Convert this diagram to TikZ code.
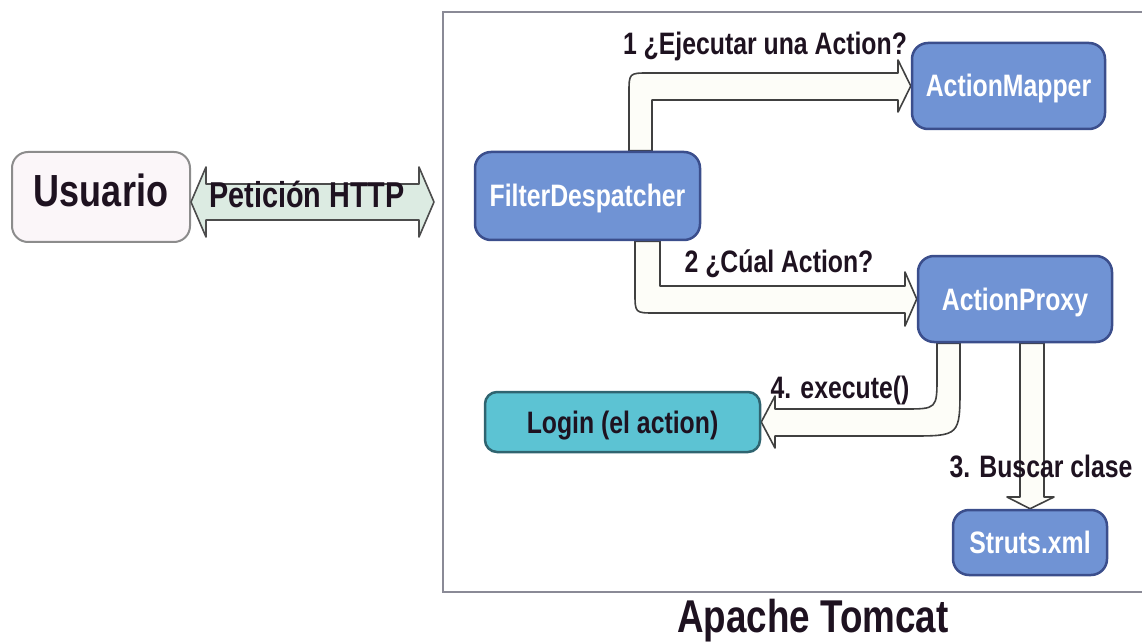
\documentclass[tikz,border=0pt]{standalone}
\usepackage{fontspec}
\setmainfont[FakeStretch=0.8]{Liberation Sans}
\usetikzlibrary{calc}
\pgfdeclarelayer{background}
\pgfsetlayers{background,main}
\definecolor{boxblue}{HTML}{7093D4}
\definecolor{boxline}{HTML}{3B4E8C}
\definecolor{loginfill}{HTML}{5CC3D3}
\definecolor{loginline}{HTML}{2F6470}
\definecolor{inkdark}{HTML}{1E1220}
\definecolor{httpfill}{HTML}{DCEBE2}
\definecolor{userfill}{HTML}{FBF6F9}
\definecolor{shaftfill}{HTML}{FDFDF8}
\definecolor{framegray}{HTML}{8A8A96}

\begin{document}
\begin{tikzpicture}[x=1pt, y=-1pt,
    comp/.style={draw=boxline, line width=2.5pt, fill=boxblue, rounded corners=16pt,
      text=white, font=\bfseries\fontsize{31}{36}\selectfont, text height=22pt, text depth=0pt},
    blockarr/.style={draw=black!75, line width=1.6pt, fill=shaftfill, line join=round},
    lbl/.style={text=inkdark, font=\bfseries\fontsize{31}{36}\selectfont, anchor=base, inner sep=0pt}]
    \useasboundingbox (0,0) rectangle (1142,644);
    \draw[framegray, line width=2pt] (1160,12) -- (443,12) -- (443,592) -- (1160,592);
    \node[draw=gray!90, line width=2pt, fill=userfill, rounded corners=16pt, minimum width=178pt, minimum height=90pt,
      text=inkdark, font=\bfseries\fontsize{45}{50}\selectfont, text height=30pt, text depth=10pt] (usuario) at (101,197) {Usuario};
    \node[comp, minimum width=225pt, minimum height=88pt] (fd) at (587.5,196) {FilterDespatcher};
    \node[comp, minimum width=193pt, minimum height=86pt] (mapper) at (1008.5,86) {ActionMapper};
    \node[comp, minimum width=194pt, minimum height=86pt] (proxy) at (1015,299) {ActionProxy};
    \node[comp, minimum width=154pt, minimum height=65pt] (struts) at (1030,542.5) {Struts.xml};
    \node[comp, draw=loginline, fill=loginfill, text=inkdark, rounded corners=12pt, minimum width=275pt, minimum height=60pt] (login) at (622.5,422) {Login (el action)};
    \begin{pgfonlayer}{background}
        \draw[blockarr] (fd.north -| 629,0) -- (629,93) .. controls (629,73) .. (649,73) -- (898,73) -- (898,60)
            -- (mapper.west) -- (898,112) -- (898,100) -- (652,100) -- (fd.north -| 652,0) -- cycle;
        \draw[blockarr] (fd.south -| 635,0) -- (635,293) .. controls (635,313) .. (655,313) -- (905,313) -- (905,326)
            -- (proxy.west) -- (905,272) -- (905,286) -- (660,286) -- (fd.south -| 660,0) -- cycle;
        \draw[blockarr] (proxy.south -| 960,0) -- (960,386) .. controls (960,436) .. (910,436) -- (775,436) -- (775,448)
            -- (login.east) -- (775,396) -- (775,409) -- (904,409) .. controls (937,409) .. (937,376) -- (proxy.south -| 937,0) -- cycle;
        \draw[blockarr] (proxy.south -| 1020,0) -- (1020,497) -- (1007,497) -- (struts.north) -- (1054,497) -- (1044,497)
            -- (proxy.south -| 1044,0) -- cycle;
    \end{pgfonlayer}
    \draw[draw=black!70, line width=1.6pt, fill=httpfill, line join=round] (usuario.east) ++(0,5) coordinate (hl)
        -- ++(15,-35) -- ++(0,17) -- ++(213,0) -- ++(0,-17) -- ++(15,35) coordinate (hr)
        -- ++(-15,35) -- ++(0,-17) -- ++(-213,0) -- ++(0,17) -- cycle;
    \node[lbl, font=\bfseries\fontsize{36}{42}\selectfont] (http) at (307,208) {Petición HTTP};
    \node[lbl] (lblone) at (765,55) {1 ¿Ejecutar una Action?};
    \node[lbl] (lbltwo) at (779,272) {2 ¿Cúal Action?};
    \node[lbl] (lblfour) at (840,398) {4. execute()};
    \node[lbl] (lblthree) at (1041,477) {3. Buscar clase};
    \node[lbl, font=\bfseries\fontsize{46}{52}\selectfont] (tomcat) at (813,632) {Apache Tomcat};
\end{tikzpicture}
\end{document}
